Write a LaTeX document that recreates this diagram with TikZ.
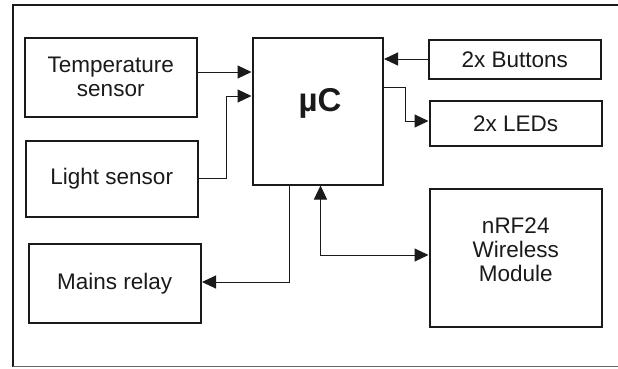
\documentclass[tikz,border=0pt]{standalone}
\usepackage{fontspec}
\setmainfont{Liberation Sans}
\usetikzlibrary{arrows.meta}
\definecolor{ink}{HTML}{1A1A1A}
\begin{document}
\begin{tikzpicture}[x=1pt,y=-1pt,
  blk/.style={draw=ink,line width=2pt,inner sep=0pt,align=center,
    font=\fontsize{22.5}{24}\selectfont,text=ink},
  arr/.style={draw=ink,line width=1pt,-{Triangle[length=14pt,width=13pt]}},
  biarr/.style={draw=ink,line width=1pt,{Triangle[length=14pt,width=13pt]}-{Triangle[length=14pt,width=13pt]}},
  lbl/.style={font=\fontsize{22.5}{24}\selectfont,text=ink,align=center,inner sep=0pt}]
\useasboundingbox (0,0) rectangle (618,368);
% frame
\draw[ink,line width=2pt] (618,5) -- (12.5,5) -- (12.5,367);
\draw[gray!80!black,line width=1.5pt] (12.5,366.5) -- (618,366.5);
% blocks
\node[blk,minimum width=172.5pt,minimum height=79.5pt] (temp) at (110.75,77.25) {Temperature\\sensor};
\node[blk,minimum width=172.5pt,minimum height=76.5pt] (light) at (111.75,178.75) {Light sensor};
\node[blk,minimum width=172.5pt,minimum height=79.5pt] (relay) at (114.75,283.25) {Mains relay};
\node[blk,minimum width=130.5pt,minimum height=147pt] (uc) at (317.75,111) {};
\node[lbl,font=\fontsize{33}{35}\selectfont\bfseries] (uclbl) at (320,103.5) {µC};
\node[blk,minimum width=172.5pt,minimum height=39.5pt] (btn) at (514.75,59.25) {2x Buttons};
\node[blk,minimum width=172.5pt,minimum height=45pt] (led) at (515.75,123.5) {2x LEDs};
\node[blk,minimum width=172.5pt,minimum height=138.5pt] (nrf) at (515.75,257.75) {};
\node[lbl] (nrflbl) at (515.75,250) {nRF24\\Wireless\\Module};
% connectors
\draw[arr] (temp.east |- 0,72) -- (uc.west |- 0,72);
\draw[arr] (light.east |- 0,178) -| (226,96) -- (uc.west |- 0,96);
\draw[arr] (btn.west |- 0,59) -- (uc.east |- 0,59);
\draw[arr] (uc.east |- 0,87) -| (405,121) -- (led.west |- 0,121);
\draw[arr] (uc.south -| 289,0) |- (relay.east |- 0,282);
\draw[biarr] (uc.south -| 320.5,0) |- (nrf.west |- 0,255);
\end{tikzpicture}
\end{document}
